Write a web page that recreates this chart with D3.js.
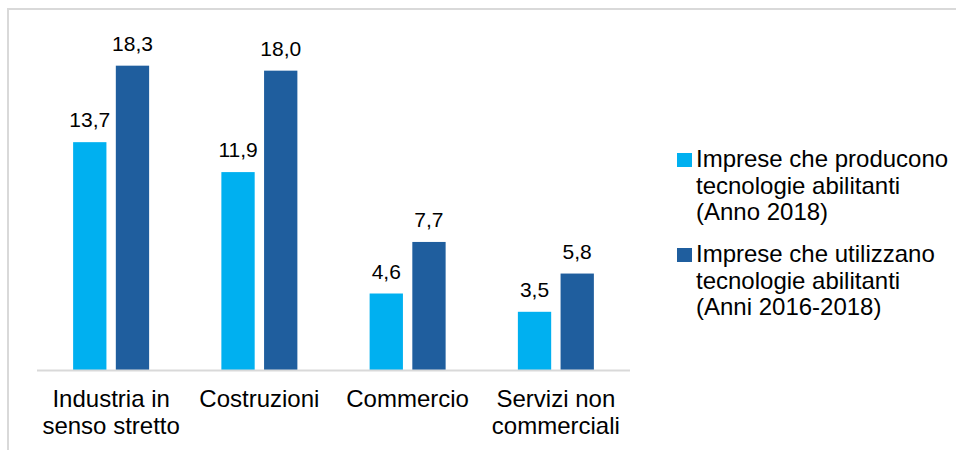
<!DOCTYPE html>
<html lang="it">
<head>
<meta charset="utf-8">
<title>Tecnologie abilitanti</title>
<script src="https://d3js.org/d3.v7.min.js"></script>
<style>
  body { margin: 0; background: #fff; }
  svg text { font-family: "Liberation Sans", Arial, sans-serif; fill: #000; }
</style>
</head>
<body>
<div id="chart"></div>
<script>
// categories (each line of the label is a separate string)
var categories = [
  ["Industria in", "senso stretto"],
  ["Costruzioni"],
  ["Commercio"],
  ["Servizi non", "commerciali"]
];
var seriesNames = [
  ["Imprese che producono", "tecnologie abilitanti", "(Anno 2018)"],
  ["Imprese che utilizzano", "tecnologie abilitanti", "(Anni 2016-2018)"]
];
var producono = [13.7, 11.9, 4.6, 3.5];
var utilizzano = [18.3, 18.0, 7.7, 5.8];
var colors = ["#00b0f0", "#1f5e9e"];

var w = 956, h = 450;
var svg = d3.select("#chart").append("svg")
  .attr("width", w).attr("height", h);

// outer frame
svg.append("rect")
  .attr("x", 8).attr("y", 9)
  .attr("width", w + 10).attr("height", h + 10)
  .attr("fill", "none").attr("stroke", "#d9d9d9").attr("stroke-width", 2);

var baseY = 370;
var x0 = d3.scaleBand()
  .domain(d3.range(categories.length))
  .range([37, 630]);
var x1 = d3.scaleBand()
  .domain([0, 1])
  .range([0, 76])
  .paddingInner(0.22);
var y = d3.scaleLinear()
  .domain([0, 20])
  .range([baseY, baseY - 332.6]);

var fmt = function(v) { return d3.format(".1f")(v).replace(".", ","); };

var groups = svg.selectAll("g.grp")
  .data(categories.map(function(c, i) { return { i: i, vals: [producono[i], utilizzano[i]] }; }))
  .enter().append("g")
  .attr("class", "grp")
  .attr("transform", function(d) {
    return "translate(" + (x0(d.i) + (x0.bandwidth() - 76) / 2) + ",0)";
  });

groups.selectAll("rect")
  .data(function(d) { return d.vals; })
  .enter().append("rect")
  .attr("x", function(d, k) { return x1(k); })
  .attr("y", function(d) { return y(d); })
  .attr("width", x1.bandwidth())
  .attr("height", function(d) { return baseY - y(d); })
  .attr("fill", function(d, k) { return colors[k]; });

groups.selectAll("text.val")
  .data(function(d) { return d.vals; })
  .enter().append("text")
  .attr("class", "val")
  .attr("x", function(d, k) { return x1(k) + x1.bandwidth() / 2; })
  .attr("y", function(d) { return y(d) - 15; })
  .attr("text-anchor", "middle")
  .style("font-size", "21px")
  .text(fmt);

// axis line
svg.append("line")
  .attr("x1", 37).attr("x2", 630)
  .attr("y1", baseY + 0.5).attr("y2", baseY + 0.5)
  .attr("stroke", "#d9d9d9").attr("stroke-width", 2);

// category labels
categories.forEach(function(lines, i) {
  var t = svg.append("text")
    .attr("text-anchor", "middle")
    .style("font-size", "24px");
  lines.forEach(function(l, j) {
    t.append("tspan")
      .attr("x", x0(i) + x0.bandwidth() / 2)
      .attr("y", 407 + j * 27)
      .text(l);
  });
});

// legend
seriesNames.forEach(function(lines, k) {
  var top = 167 + k * 95;
  svg.append("rect")
    .attr("x", 677).attr("y", top - 14)
    .attr("width", 15).attr("height", 14)
    .attr("fill", colors[k]);
  var t = svg.append("text").style("font-size", "24px");
  lines.forEach(function(l, j) {
    t.append("tspan")
      .attr("x", 696)
      .attr("y", top + j * 26.5)
      .text(l);
  });
});
</script>
</body>
</html>
